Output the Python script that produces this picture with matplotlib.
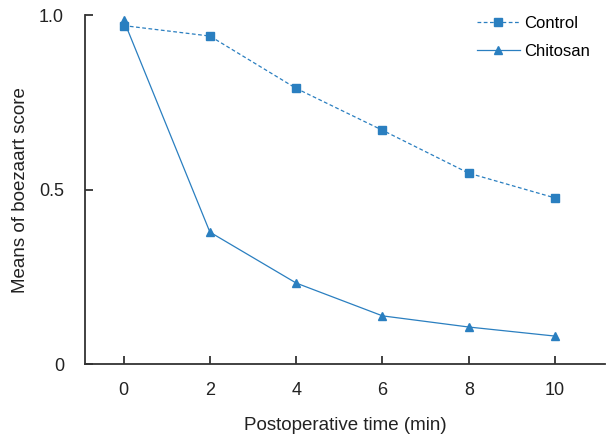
import matplotlib
matplotlib.use('Agg')
import matplotlib.pyplot as plt

plt.rcParams['font.family'] = ['Liberation Sans', 'DejaVu Sans']

time_min = [0, 2, 4, 6, 8, 10]
control = [0.97, 0.94, 0.79, 0.67, 0.547, 0.476]
chitosan = [0.986, 0.378, 0.232, 0.138, 0.106, 0.08]

blue = '#2a7fc0'

fig = plt.figure(figsize=(6.1, 4.45), dpi=100)
ax = fig.add_axes([0.139, 0.182, 0.853, 0.784])

ax.plot(time_min, control, color=blue, linestyle=(0, (3, 2)), linewidth=0.9,
        marker='s', markersize=6, label='Control', clip_on=False)
ax.plot(time_min, chitosan, color=blue, linestyle='-', linewidth=0.9,
        marker='^', markersize=6, label='Chitosan', clip_on=False)

ax.set_xlim(-0.9, 11.16)
ax.set_ylim(0, 1.0)
ax.set_xticks(time_min)
ax.set_yticks([0, 0.5, 1.0])
ax.set_yticklabels(['0', '0.5', '1.0'])

for side in ['top', 'right']:
    ax.spines[side].set_visible(False)
for side in ['left', 'bottom']:
    ax.spines[side].set_color('#333333')
    ax.spines[side].set_linewidth(1.3)

ax.tick_params(direction='in', length=6, width=1.3, color='#333333',
               labelsize=13, labelcolor='#222222')
ax.tick_params(axis='x', pad=13)
ax.tick_params(axis='y', pad=15)

ax.set_xlabel('Postoperative time (min)', fontsize=13.5, color='#222222', labelpad=13)
ax.set_ylabel('Means of boezaart score', fontsize=13.5, color='#222222', labelpad=7)

ax.legend(loc='upper right', bbox_to_anchor=(1.0, 1.04), frameon=False,
          fontsize=12, handlelength=2.6, handletextpad=0.25, labelspacing=0.75)

fig.savefig('out.png', dpi=100)
